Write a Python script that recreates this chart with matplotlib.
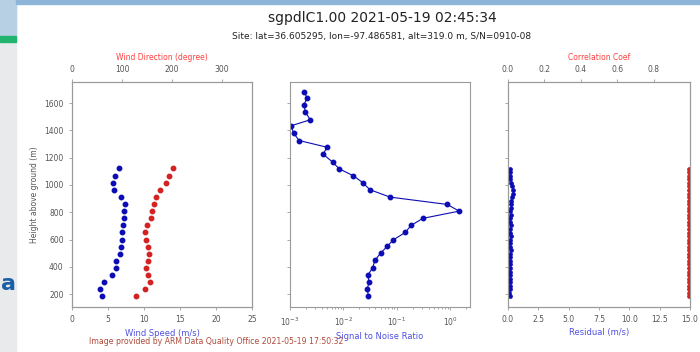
import matplotlib.pyplot as plt
from matplotlib.patches import Rectangle

# wind profile (left panel)
heights_wind = [183, 237, 286, 337, 391, 442, 496, 547, 598, 652, 706, 757, 806, 860, 911, 965, 1016, 1067, 1121]
wind_speed = [4.2, 3.9, 4.4, 5.6, 6.1, 6.1, 6.6, 6.8, 6.9, 7.0, 7.1, 7.2, 7.2, 7.3, 6.8, 5.9, 5.7, 6.0, 6.5]
wind_dir = [128, 145, 155, 151, 147, 151, 153, 151, 147, 146, 149, 157, 160, 164, 167, 176, 187, 194, 201]

# signal to noise ratio (middle panel)
heights_snr = [183, 237, 286, 339, 393, 447, 500, 549, 598, 652, 703, 755, 808, 857, 911,
               965, 1018, 1067, 1119, 1168, 1224, 1277, 1326, 1380, 1434, 1478, 1534, 1588, 1637, 1685]
snr = [0.0295, 0.0282, 0.0302, 0.0288, 0.0355, 0.0389, 0.0501, 0.0661, 0.0871, 0.145, 0.186, 0.309,
       1.48, 0.891, 0.075, 0.0316, 0.0229, 0.0155, 0.0083, 0.0063, 0.0042, 0.0049, 0.00148, 0.00117,
       0.00105, 0.0024, 0.00195, 0.00182, 0.00209, 0.00186]

# residual / correlation (right panel)
heights_fit = [183, 209, 235, 261, 287, 313, 339, 365, 391, 417, 443, 469, 495, 521, 547, 573, 599, 625, 651,
               677, 703, 729, 755, 781, 807, 833, 859, 885, 911, 937, 963, 989, 1015, 1041, 1067, 1093, 1119]
residual = [0.15, 0.12, 0.18, 0.15, 0.2, 0.16, 0.18, 0.2, 0.15, 0.18, 0.2, 0.17, 0.19, 0.22, 0.18, 0.2, 0.17, 0.21, 0.19,
            0.2, 0.22, 0.18, 0.2, 0.24, 0.2, 0.22, 0.25, 0.22, 0.3, 0.42, 0.4, 0.35, 0.22, 0.18, 0.2, 0.15, 0.17]
corr = [0.993, 0.994, 0.993, 0.994, 0.994, 0.993, 0.994, 0.994, 0.993, 0.994, 0.994, 0.993, 0.994, 0.994, 0.993,
        0.994, 0.994, 0.993, 0.994, 0.994, 0.993, 0.994, 0.994, 0.993, 0.994, 0.994, 0.993, 0.994, 0.994, 0.993,
        0.994, 0.993, 0.994, 0.994, 0.993, 0.994, 0.993]

BLUE = '#0c0cb4'
RED = '#d42222'
SPINE = '#9a9a9a'
TICKLBL = '#555555'

fig = plt.figure(figsize=(7, 3.52), dpi=100)

# slide background around the screenshot
fig.patches.append(Rectangle((0, 0), 16/700, 1, transform=fig.transFigure, color='#e8eaec', zorder=0))
fig.patches.append(Rectangle((0, 1-36/352), 16/700, 36/352, transform=fig.transFigure, color='#b7d0e4', zorder=0))
fig.patches.append(Rectangle((0, 1-42/352), 16/700, 6/352, transform=fig.transFigure, color='#20b46e', zorder=0))
fig.patches.append(Rectangle((16/700, 1-4/352), 1, 4/352, transform=fig.transFigure, color='#8db5d8', zorder=0))
fig.text(1/700, 1-290/352, 'a', fontsize=16, fontweight='bold', color='#1b5ea8', ha='left', va='baseline')


def style(ax):
    for s in ax.spines.values():
        s.set_color(SPINE)
        s.set_linewidth(0.8)
    ax.tick_params(which='both', labelsize=5.5, colors=SPINE, labelcolor=TICKLBL, length=2.5, width=0.6)
    ax.tick_params(which='minor', length=1.5)


ylim = (105, 1755)
w, h, b = 180/700, 225/352, 1-307/352

# left: wind speed + wind direction
ax1 = fig.add_axes([72/700, b, w, h])
ax1.plot(wind_speed, heights_wind, 'o', color=BLUE, ms=3.2)
ax1.set_xlim(0, 25)
ax1.set_ylim(*ylim)
ax1.set_xlabel('Wind Speed (m/s)', color='#5050e0', fontsize=6, labelpad=3)
ax1.set_ylabel('Height above ground (m)', color=TICKLBL, fontsize=5.5)
style(ax1)
ax1t = ax1.twiny()
ax1t.plot(wind_dir, heights_wind, 'o', color=RED, ms=3.2)
ax1t.set_xlim(0, 360)
ax1t.set_xticks([0, 100, 200, 300])
ax1t.set_xlabel('Wind Direction (degree)', color='#ff4040', fontsize=5.5, labelpad=3)
style(ax1t)

# middle: SNR
ax2 = fig.add_axes([290/700, b, w, h], sharey=ax1)
ax2.plot(snr, heights_snr, '-o', color=BLUE, ms=3.2, lw=0.8)
ax2.set_xscale('log')
ax2.set_xlim(1e-3, 2.37)
ax2.set_xlabel('Signal to Noise Ratio', color='#5050e0', fontsize=6, labelpad=3)
ax2.tick_params(labelleft=False)
style(ax2)

# right: residual + correlation
ax3 = fig.add_axes([508/700, b, 182/700, h], sharey=ax1)
ax3.plot(residual, heights_fit, 'o', color=BLUE, ms=2.4)
ax3.set_xlim(0, 15)
ax3.set_xticks([0, 2.5, 5, 7.5, 10, 12.5, 15])
ax3.set_xticklabels(['0.0', '2.5', '5.0', '7.5', '10.0', '12.5', '15.0'])
ax3.set_xlabel('Residual (m/s)', color='#5050e0', fontsize=6, labelpad=3)
ax3.tick_params(labelleft=False)
style(ax3)
ax3t = ax3.twiny()
ax3t.plot(corr, heights_fit, 'o', color=RED, ms=2.4)
ax3t.set_xlim(0, 0.999)
ax3t.set_xticks([0, 0.2, 0.4, 0.6, 0.8])
ax3t.set_xlabel('Correlation Coef', color='#ff4040', fontsize=5.5, labelpad=3)
style(ax3t)

fig.text(382/700, 1-18/352, 'sgpdlC1.00 2021-05-19 02:45:34', ha='center', va='center', fontsize=10, color='#222222')
fig.text(382/700, 1-37/352, 'Site: lat=36.605295, lon=-97.486581, alt=319.0 m, S/N=0910-08',
         ha='center', va='center', fontsize=6.5, color='#222222')
fig.text(216/700, 1-342/352, 'Image provided by ARM Data Quality Office 2021-05-19 17:50:32',
         ha='center', va='center', fontsize=5.6, color='#b04a3a')

fig.savefig('out.png', dpi=100)
